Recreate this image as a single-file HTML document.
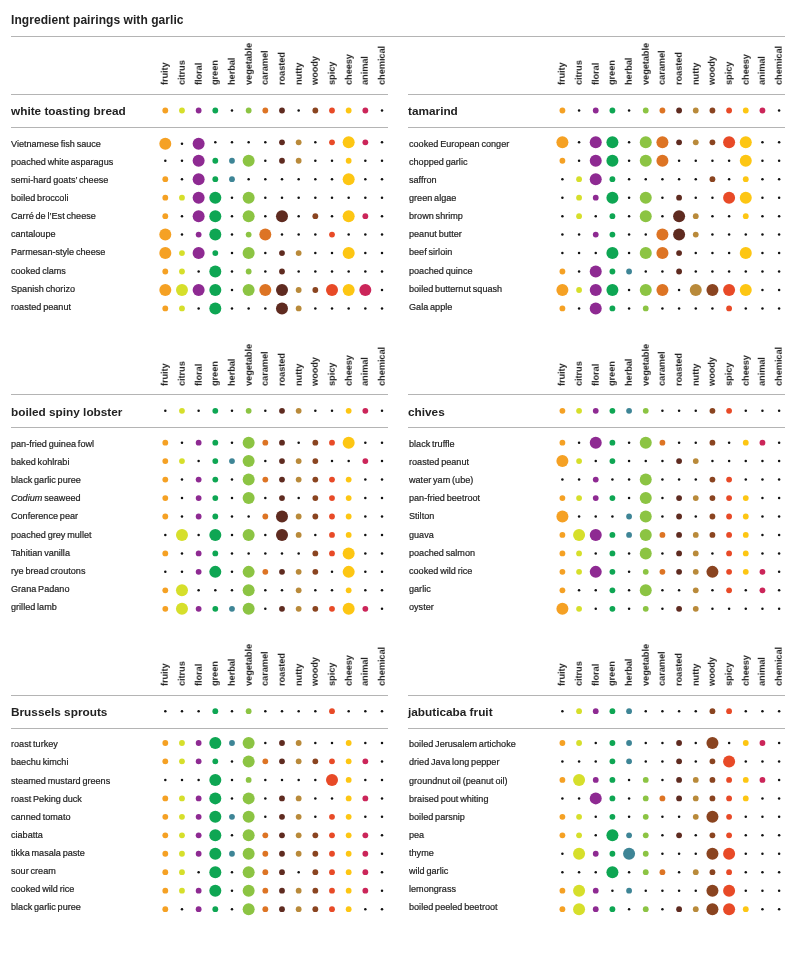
<!DOCTYPE html>
<html><head><meta charset="utf-8"><style>
html,body{margin:0;padding:0;background:#fff;}
body{width:800px;height:954px;position:relative;overflow:hidden;font-family:"Liberation Sans",sans-serif;color:#2b2b2b;}
.title{position:absolute;left:10.8px;top:12.6px;font-size:12px;font-weight:bold;line-height:14px;white-space:nowrap;color:#222;letter-spacing:0.06px;will-change:transform;}
.ln{position:absolute;height:1px;background:#b4b4b4;}
.cl{position:absolute;width:0;height:0;}
.cl span{position:absolute;left:0;top:0;font-size:9.3px;line-height:10px;white-space:nowrap;transform-origin:0 0;transform:rotate(-90deg) translate(0,-5.3px);color:#222;font-weight:bold;letter-spacing:-0.1px;will-change:transform;}
.mn{position:absolute;font-size:11.8px;font-weight:bold;line-height:14px;margin-top:-6.1px;white-space:nowrap;color:#222;will-change:transform;}
.rl{position:absolute;font-size:9.1px;line-height:10px;margin-top:-5px;white-space:nowrap;color:#222;-webkit-text-stroke:0.2px #222;word-spacing:-0.7px;will-change:transform;}
i.d{position:absolute;border-radius:50%;}
i.t{position:absolute;width:2.5px;height:2.5px;background:#111;}
</style></head>
<body>
<div class="title">Ingredient pairings with garlic</div>
<div class="ln" style="left:11px;top:36px;width:774px"></div>
<div class="cl" style="left:165.30px;top:85.40px"><span>fruity</span></div><div class="cl" style="left:181.97px;top:85.40px"><span>citrus</span></div><div class="cl" style="left:198.64px;top:85.40px"><span>floral</span></div><div class="cl" style="left:215.31px;top:85.40px"><span>green</span></div><div class="cl" style="left:231.98px;top:85.40px"><span>herbal</span></div><div class="cl" style="left:248.65px;top:85.40px"><span>vegetable</span></div><div class="cl" style="left:265.32px;top:85.40px"><span>caramel</span></div><div class="cl" style="left:281.99px;top:85.40px"><span>roasted</span></div><div class="cl" style="left:298.66px;top:85.40px"><span>nutty</span></div><div class="cl" style="left:315.33px;top:85.40px"><span>woody</span></div><div class="cl" style="left:332.00px;top:85.40px"><span>spicy</span></div><div class="cl" style="left:348.67px;top:85.40px"><span>cheesy</span></div><div class="cl" style="left:365.34px;top:85.40px"><span>animal</span></div><div class="cl" style="left:382.01px;top:85.40px"><span>chemical</span></div><div class="ln" style="left:11.00px;top:94px;width:376.6px"></div><div class="ln" style="left:11.00px;top:127px;width:376.6px"></div><div class="mn" style="left:11.30px;top:110.50px">white toasting bread</div><div class="rl" style="left:11.40px;top:143.60px">Vietnamese fish sauce</div><div class="rl" style="left:11.40px;top:161.73px">poached white asparagus</div><div class="rl" style="left:11.40px;top:179.86px">semi-hard goats’ cheese</div><div class="rl" style="left:11.40px;top:197.99px">boiled broccoli</div><div class="rl" style="left:11.40px;top:216.12px">Carré de l’Est cheese</div><div class="rl" style="left:11.40px;top:234.25px">cantaloupe</div><div class="rl" style="left:11.40px;top:252.38px">Parmesan-style cheese</div><div class="rl" style="left:11.40px;top:270.51px">cooked clams</div><div class="rl" style="left:11.40px;top:288.64px">Spanish chorizo</div><div class="rl" style="left:11.40px;top:306.77px">roasted peanut</div><div class="cl" style="left:562.40px;top:85.40px"><span>fruity</span></div><div class="cl" style="left:579.07px;top:85.40px"><span>citrus</span></div><div class="cl" style="left:595.74px;top:85.40px"><span>floral</span></div><div class="cl" style="left:612.41px;top:85.40px"><span>green</span></div><div class="cl" style="left:629.08px;top:85.40px"><span>herbal</span></div><div class="cl" style="left:645.75px;top:85.40px"><span>vegetable</span></div><div class="cl" style="left:662.42px;top:85.40px"><span>caramel</span></div><div class="cl" style="left:679.09px;top:85.40px"><span>roasted</span></div><div class="cl" style="left:695.76px;top:85.40px"><span>nutty</span></div><div class="cl" style="left:712.43px;top:85.40px"><span>woody</span></div><div class="cl" style="left:729.10px;top:85.40px"><span>spicy</span></div><div class="cl" style="left:745.77px;top:85.40px"><span>cheesy</span></div><div class="cl" style="left:762.44px;top:85.40px"><span>animal</span></div><div class="cl" style="left:779.11px;top:85.40px"><span>chemical</span></div><div class="ln" style="left:408.10px;top:94px;width:376.6px"></div><div class="ln" style="left:408.10px;top:127px;width:376.6px"></div><div class="mn" style="left:408.40px;top:110.50px">tamarind</div><div class="rl" style="left:408.50px;top:143.60px">cooked European conger</div><div class="rl" style="left:408.50px;top:161.73px">chopped garlic</div><div class="rl" style="left:408.50px;top:179.86px">saffron</div><div class="rl" style="left:408.50px;top:197.99px">green algae</div><div class="rl" style="left:408.50px;top:216.12px">brown shrimp</div><div class="rl" style="left:408.50px;top:234.25px">peanut butter</div><div class="rl" style="left:408.50px;top:252.38px">beef sirloin</div><div class="rl" style="left:408.50px;top:270.51px">poached quince</div><div class="rl" style="left:408.50px;top:288.64px">boiled butternut squash</div><div class="rl" style="left:408.50px;top:306.77px">Gala apple</div><div class="cl" style="left:165.30px;top:385.75px"><span>fruity</span></div><div class="cl" style="left:181.97px;top:385.75px"><span>citrus</span></div><div class="cl" style="left:198.64px;top:385.75px"><span>floral</span></div><div class="cl" style="left:215.31px;top:385.75px"><span>green</span></div><div class="cl" style="left:231.98px;top:385.75px"><span>herbal</span></div><div class="cl" style="left:248.65px;top:385.75px"><span>vegetable</span></div><div class="cl" style="left:265.32px;top:385.75px"><span>caramel</span></div><div class="cl" style="left:281.99px;top:385.75px"><span>roasted</span></div><div class="cl" style="left:298.66px;top:385.75px"><span>nutty</span></div><div class="cl" style="left:315.33px;top:385.75px"><span>woody</span></div><div class="cl" style="left:332.00px;top:385.75px"><span>spicy</span></div><div class="cl" style="left:348.67px;top:385.75px"><span>cheesy</span></div><div class="cl" style="left:365.34px;top:385.75px"><span>animal</span></div><div class="cl" style="left:382.01px;top:385.75px"><span>chemical</span></div><div class="ln" style="left:11.00px;top:394px;width:376.6px"></div><div class="ln" style="left:11.00px;top:427px;width:376.6px"></div><div class="mn" style="left:11.30px;top:410.85px">boiled spiny lobster</div><div class="rl" style="left:11.40px;top:443.95px">pan-fried guinea fowl</div><div class="rl" style="left:11.40px;top:462.08px">baked kohlrabi</div><div class="rl" style="left:11.40px;top:480.21px">black garlic puree</div><div class="rl" style="left:11.40px;top:498.34px"><i>Codium</i> seaweed</div><div class="rl" style="left:11.40px;top:516.47px">Conference pear</div><div class="rl" style="left:11.40px;top:534.60px">poached grey mullet</div><div class="rl" style="left:11.40px;top:552.73px">Tahitian vanilla</div><div class="rl" style="left:11.40px;top:570.86px">rye bread croutons</div><div class="rl" style="left:11.40px;top:588.99px">Grana Padano</div><div class="rl" style="left:11.40px;top:607.12px">grilled lamb</div><div class="cl" style="left:562.40px;top:385.75px"><span>fruity</span></div><div class="cl" style="left:579.07px;top:385.75px"><span>citrus</span></div><div class="cl" style="left:595.74px;top:385.75px"><span>floral</span></div><div class="cl" style="left:612.41px;top:385.75px"><span>green</span></div><div class="cl" style="left:629.08px;top:385.75px"><span>herbal</span></div><div class="cl" style="left:645.75px;top:385.75px"><span>vegetable</span></div><div class="cl" style="left:662.42px;top:385.75px"><span>caramel</span></div><div class="cl" style="left:679.09px;top:385.75px"><span>roasted</span></div><div class="cl" style="left:695.76px;top:385.75px"><span>nutty</span></div><div class="cl" style="left:712.43px;top:385.75px"><span>woody</span></div><div class="cl" style="left:729.10px;top:385.75px"><span>spicy</span></div><div class="cl" style="left:745.77px;top:385.75px"><span>cheesy</span></div><div class="cl" style="left:762.44px;top:385.75px"><span>animal</span></div><div class="cl" style="left:779.11px;top:385.75px"><span>chemical</span></div><div class="ln" style="left:408.10px;top:394px;width:376.6px"></div><div class="ln" style="left:408.10px;top:427px;width:376.6px"></div><div class="mn" style="left:408.40px;top:410.85px">chives</div><div class="rl" style="left:408.50px;top:443.95px">black truffle</div><div class="rl" style="left:408.50px;top:462.08px">roasted peanut</div><div class="rl" style="left:408.50px;top:480.21px">water yam (ube)</div><div class="rl" style="left:408.50px;top:498.34px">pan-fried beetroot</div><div class="rl" style="left:408.50px;top:516.47px">Stilton</div><div class="rl" style="left:408.50px;top:534.60px">guava</div><div class="rl" style="left:408.50px;top:552.73px">poached salmon</div><div class="rl" style="left:408.50px;top:570.86px">cooked wild rice</div><div class="rl" style="left:408.50px;top:588.99px">garlic</div><div class="rl" style="left:408.50px;top:607.12px">oyster</div><div class="cl" style="left:165.30px;top:686.10px"><span>fruity</span></div><div class="cl" style="left:181.97px;top:686.10px"><span>citrus</span></div><div class="cl" style="left:198.64px;top:686.10px"><span>floral</span></div><div class="cl" style="left:215.31px;top:686.10px"><span>green</span></div><div class="cl" style="left:231.98px;top:686.10px"><span>herbal</span></div><div class="cl" style="left:248.65px;top:686.10px"><span>vegetable</span></div><div class="cl" style="left:265.32px;top:686.10px"><span>caramel</span></div><div class="cl" style="left:281.99px;top:686.10px"><span>roasted</span></div><div class="cl" style="left:298.66px;top:686.10px"><span>nutty</span></div><div class="cl" style="left:315.33px;top:686.10px"><span>woody</span></div><div class="cl" style="left:332.00px;top:686.10px"><span>spicy</span></div><div class="cl" style="left:348.67px;top:686.10px"><span>cheesy</span></div><div class="cl" style="left:365.34px;top:686.10px"><span>animal</span></div><div class="cl" style="left:382.01px;top:686.10px"><span>chemical</span></div><div class="ln" style="left:11.00px;top:695px;width:376.6px"></div><div class="ln" style="left:11.00px;top:728px;width:376.6px"></div><div class="mn" style="left:11.30px;top:711.20px">Brussels sprouts</div><div class="rl" style="left:11.40px;top:744.30px">roast turkey</div><div class="rl" style="left:11.40px;top:762.43px">baechu kimchi</div><div class="rl" style="left:11.40px;top:780.56px">steamed mustard greens</div><div class="rl" style="left:11.40px;top:798.69px">roast Peking duck</div><div class="rl" style="left:11.40px;top:816.82px">canned tomato</div><div class="rl" style="left:11.40px;top:834.95px">ciabatta</div><div class="rl" style="left:11.40px;top:853.08px">tikka masala paste</div><div class="rl" style="left:11.40px;top:871.21px">sour cream</div><div class="rl" style="left:11.40px;top:889.34px">cooked wild rice</div><div class="rl" style="left:11.40px;top:907.47px">black garlic puree</div><div class="cl" style="left:562.40px;top:686.10px"><span>fruity</span></div><div class="cl" style="left:579.07px;top:686.10px"><span>citrus</span></div><div class="cl" style="left:595.74px;top:686.10px"><span>floral</span></div><div class="cl" style="left:612.41px;top:686.10px"><span>green</span></div><div class="cl" style="left:629.08px;top:686.10px"><span>herbal</span></div><div class="cl" style="left:645.75px;top:686.10px"><span>vegetable</span></div><div class="cl" style="left:662.42px;top:686.10px"><span>caramel</span></div><div class="cl" style="left:679.09px;top:686.10px"><span>roasted</span></div><div class="cl" style="left:695.76px;top:686.10px"><span>nutty</span></div><div class="cl" style="left:712.43px;top:686.10px"><span>woody</span></div><div class="cl" style="left:729.10px;top:686.10px"><span>spicy</span></div><div class="cl" style="left:745.77px;top:686.10px"><span>cheesy</span></div><div class="cl" style="left:762.44px;top:686.10px"><span>animal</span></div><div class="cl" style="left:779.11px;top:686.10px"><span>chemical</span></div><div class="ln" style="left:408.10px;top:695px;width:376.6px"></div><div class="ln" style="left:408.10px;top:728px;width:376.6px"></div><div class="mn" style="left:408.40px;top:711.20px">jabuticaba fruit</div><div class="rl" style="left:408.50px;top:744.30px">boiled Jerusalem artichoke</div><div class="rl" style="left:408.50px;top:762.43px">dried Java long pepper</div><div class="rl" style="left:408.50px;top:780.56px">groundnut oil (peanut oil)</div><div class="rl" style="left:408.50px;top:798.69px">braised pout whiting</div><div class="rl" style="left:408.50px;top:816.82px">boiled parsnip</div><div class="rl" style="left:408.50px;top:834.95px">pea</div><div class="rl" style="left:408.50px;top:853.08px">thyme</div><div class="rl" style="left:408.50px;top:871.21px">wild garlic</div><div class="rl" style="left:408.50px;top:889.34px">lemongrass</div><div class="rl" style="left:408.50px;top:907.47px">boiled peeled beetroot</div>
<svg width="800" height="954" style="position:absolute;left:0;top:0"><circle cx="165.30" cy="110.50" r="2.9" fill="#F5A124"/><circle cx="181.97" cy="110.50" r="2.9" fill="#D6DF2B"/><circle cx="198.64" cy="110.50" r="2.9" fill="#8E2A92"/><circle cx="215.31" cy="110.50" r="2.9" fill="#0EA653"/><circle cx="231.98" cy="110.50" r="1.25" fill="#111"/><circle cx="248.65" cy="110.50" r="2.9" fill="#8CC443"/><circle cx="265.32" cy="110.50" r="2.9" fill="#DD7424"/><circle cx="281.99" cy="110.50" r="2.9" fill="#5F2B20"/><circle cx="298.66" cy="110.50" r="1.25" fill="#111"/><circle cx="315.33" cy="110.50" r="2.9" fill="#8A4420"/><circle cx="332.00" cy="110.50" r="2.9" fill="#E84A27"/><circle cx="348.67" cy="110.50" r="2.9" fill="#FDC613"/><circle cx="365.34" cy="110.50" r="2.9" fill="#CB2559"/><circle cx="382.01" cy="110.50" r="1.25" fill="#111"/><circle cx="165.30" cy="143.70" r="6.0" fill="#F5A124"/><circle cx="181.97" cy="143.70" r="1.25" fill="#111"/><circle cx="198.64" cy="143.70" r="6.0" fill="#8E2A92"/><circle cx="215.31" cy="142.30" r="1.25" fill="#111"/><circle cx="231.98" cy="142.30" r="1.25" fill="#111"/><circle cx="248.65" cy="142.30" r="1.25" fill="#111"/><circle cx="265.32" cy="142.30" r="1.25" fill="#111"/><circle cx="281.99" cy="142.30" r="2.9" fill="#5F2B20"/><circle cx="298.66" cy="142.30" r="2.9" fill="#B98A3A"/><circle cx="315.33" cy="142.30" r="1.25" fill="#111"/><circle cx="332.00" cy="142.30" r="2.9" fill="#E84A27"/><circle cx="348.67" cy="142.30" r="6.0" fill="#FDC613"/><circle cx="365.34" cy="142.30" r="2.9" fill="#CB2559"/><circle cx="382.01" cy="142.30" r="1.25" fill="#111"/><circle cx="165.30" cy="160.76" r="1.25" fill="#111"/><circle cx="181.97" cy="160.76" r="1.25" fill="#111"/><circle cx="198.64" cy="160.76" r="6.0" fill="#8E2A92"/><circle cx="215.31" cy="160.76" r="2.9" fill="#0EA653"/><circle cx="231.98" cy="160.76" r="2.9" fill="#3E8596"/><circle cx="248.65" cy="160.76" r="6.0" fill="#8CC443"/><circle cx="265.32" cy="160.76" r="1.25" fill="#111"/><circle cx="281.99" cy="160.76" r="2.9" fill="#5F2B20"/><circle cx="298.66" cy="160.76" r="2.9" fill="#B98A3A"/><circle cx="315.33" cy="160.76" r="1.25" fill="#111"/><circle cx="332.00" cy="160.76" r="1.25" fill="#111"/><circle cx="348.67" cy="160.76" r="2.9" fill="#FDC613"/><circle cx="365.34" cy="160.76" r="1.25" fill="#111"/><circle cx="382.01" cy="160.76" r="1.25" fill="#111"/><circle cx="165.30" cy="179.22" r="2.9" fill="#F5A124"/><circle cx="181.97" cy="179.22" r="1.25" fill="#111"/><circle cx="198.64" cy="179.22" r="6.0" fill="#8E2A92"/><circle cx="215.31" cy="179.22" r="2.9" fill="#0EA653"/><circle cx="231.98" cy="179.22" r="2.9" fill="#3E8596"/><circle cx="248.65" cy="179.22" r="1.25" fill="#111"/><circle cx="265.32" cy="179.22" r="1.25" fill="#111"/><circle cx="281.99" cy="179.22" r="1.25" fill="#111"/><circle cx="298.66" cy="179.22" r="1.25" fill="#111"/><circle cx="315.33" cy="179.22" r="1.25" fill="#111"/><circle cx="332.00" cy="179.22" r="1.25" fill="#111"/><circle cx="348.67" cy="179.22" r="6.0" fill="#FDC613"/><circle cx="365.34" cy="179.22" r="1.25" fill="#111"/><circle cx="382.01" cy="179.22" r="1.25" fill="#111"/><circle cx="165.30" cy="197.68" r="2.9" fill="#F5A124"/><circle cx="181.97" cy="197.68" r="2.9" fill="#D6DF2B"/><circle cx="198.64" cy="197.68" r="6.0" fill="#8E2A92"/><circle cx="215.31" cy="197.68" r="6.0" fill="#0EA653"/><circle cx="231.98" cy="197.68" r="1.25" fill="#111"/><circle cx="248.65" cy="197.68" r="6.0" fill="#8CC443"/><circle cx="265.32" cy="197.68" r="1.25" fill="#111"/><circle cx="281.99" cy="197.68" r="1.25" fill="#111"/><circle cx="298.66" cy="197.68" r="1.25" fill="#111"/><circle cx="315.33" cy="197.68" r="1.25" fill="#111"/><circle cx="332.00" cy="197.68" r="1.25" fill="#111"/><circle cx="348.67" cy="197.68" r="1.25" fill="#111"/><circle cx="365.34" cy="197.68" r="1.25" fill="#111"/><circle cx="382.01" cy="197.68" r="1.25" fill="#111"/><circle cx="165.30" cy="216.14" r="2.9" fill="#F5A124"/><circle cx="181.97" cy="216.14" r="1.25" fill="#111"/><circle cx="198.64" cy="216.14" r="6.0" fill="#8E2A92"/><circle cx="215.31" cy="216.14" r="6.0" fill="#0EA653"/><circle cx="231.98" cy="216.14" r="1.25" fill="#111"/><circle cx="248.65" cy="216.14" r="6.0" fill="#8CC443"/><circle cx="265.32" cy="216.14" r="1.25" fill="#111"/><circle cx="281.99" cy="216.14" r="6.0" fill="#5F2B20"/><circle cx="298.66" cy="216.14" r="1.25" fill="#111"/><circle cx="315.33" cy="216.14" r="2.9" fill="#8A4420"/><circle cx="332.00" cy="216.14" r="1.25" fill="#111"/><circle cx="348.67" cy="216.14" r="6.0" fill="#FDC613"/><circle cx="365.34" cy="216.14" r="2.9" fill="#CB2559"/><circle cx="382.01" cy="216.14" r="1.25" fill="#111"/><circle cx="165.30" cy="234.60" r="6.0" fill="#F5A124"/><circle cx="181.97" cy="234.60" r="1.25" fill="#111"/><circle cx="198.64" cy="234.60" r="2.9" fill="#8E2A92"/><circle cx="215.31" cy="234.60" r="6.0" fill="#0EA653"/><circle cx="231.98" cy="234.60" r="1.25" fill="#111"/><circle cx="248.65" cy="234.60" r="2.9" fill="#8CC443"/><circle cx="265.32" cy="234.60" r="6.0" fill="#DD7424"/><circle cx="281.99" cy="234.60" r="1.25" fill="#111"/><circle cx="298.66" cy="234.60" r="1.25" fill="#111"/><circle cx="315.33" cy="234.60" r="1.25" fill="#111"/><circle cx="332.00" cy="234.60" r="2.9" fill="#E84A27"/><circle cx="348.67" cy="234.60" r="1.25" fill="#111"/><circle cx="365.34" cy="234.60" r="1.25" fill="#111"/><circle cx="382.01" cy="234.60" r="1.25" fill="#111"/><circle cx="165.30" cy="253.06" r="6.0" fill="#F5A124"/><circle cx="181.97" cy="253.06" r="2.9" fill="#D6DF2B"/><circle cx="198.64" cy="253.06" r="6.0" fill="#8E2A92"/><circle cx="215.31" cy="253.06" r="2.9" fill="#0EA653"/><circle cx="231.98" cy="253.06" r="1.25" fill="#111"/><circle cx="248.65" cy="253.06" r="6.0" fill="#8CC443"/><circle cx="265.32" cy="253.06" r="1.25" fill="#111"/><circle cx="281.99" cy="253.06" r="2.9" fill="#5F2B20"/><circle cx="298.66" cy="253.06" r="2.9" fill="#B98A3A"/><circle cx="315.33" cy="253.06" r="1.25" fill="#111"/><circle cx="332.00" cy="253.06" r="1.25" fill="#111"/><circle cx="348.67" cy="253.06" r="6.0" fill="#FDC613"/><circle cx="365.34" cy="253.06" r="1.25" fill="#111"/><circle cx="382.01" cy="253.06" r="1.25" fill="#111"/><circle cx="165.30" cy="271.52" r="2.9" fill="#F5A124"/><circle cx="181.97" cy="271.52" r="2.9" fill="#D6DF2B"/><circle cx="198.64" cy="271.52" r="1.25" fill="#111"/><circle cx="215.31" cy="271.52" r="6.0" fill="#0EA653"/><circle cx="231.98" cy="271.52" r="1.25" fill="#111"/><circle cx="248.65" cy="271.52" r="2.9" fill="#8CC443"/><circle cx="265.32" cy="271.52" r="1.25" fill="#111"/><circle cx="281.99" cy="271.52" r="2.9" fill="#5F2B20"/><circle cx="298.66" cy="271.52" r="1.25" fill="#111"/><circle cx="315.33" cy="271.52" r="1.25" fill="#111"/><circle cx="332.00" cy="271.52" r="1.25" fill="#111"/><circle cx="348.67" cy="271.52" r="1.25" fill="#111"/><circle cx="365.34" cy="271.52" r="1.25" fill="#111"/><circle cx="382.01" cy="271.52" r="1.25" fill="#111"/><circle cx="165.30" cy="289.98" r="6.0" fill="#F5A124"/><circle cx="181.97" cy="289.98" r="6.0" fill="#D6DF2B"/><circle cx="198.64" cy="289.98" r="6.0" fill="#8E2A92"/><circle cx="215.31" cy="289.98" r="6.0" fill="#0EA653"/><circle cx="231.98" cy="289.98" r="1.25" fill="#111"/><circle cx="248.65" cy="289.98" r="6.0" fill="#8CC443"/><circle cx="265.32" cy="289.98" r="6.0" fill="#DD7424"/><circle cx="281.99" cy="289.98" r="6.0" fill="#5F2B20"/><circle cx="298.66" cy="289.98" r="2.9" fill="#B98A3A"/><circle cx="315.33" cy="289.98" r="2.9" fill="#8A4420"/><circle cx="332.00" cy="289.98" r="6.0" fill="#E84A27"/><circle cx="348.67" cy="289.98" r="6.0" fill="#FDC613"/><circle cx="365.34" cy="289.98" r="6.0" fill="#CB2559"/><circle cx="382.01" cy="289.98" r="1.25" fill="#111"/><circle cx="165.30" cy="308.44" r="2.9" fill="#F5A124"/><circle cx="181.97" cy="308.44" r="2.9" fill="#D6DF2B"/><circle cx="198.64" cy="308.44" r="1.25" fill="#111"/><circle cx="215.31" cy="308.44" r="6.0" fill="#0EA653"/><circle cx="231.98" cy="308.44" r="1.25" fill="#111"/><circle cx="248.65" cy="308.44" r="1.25" fill="#111"/><circle cx="265.32" cy="308.44" r="1.25" fill="#111"/><circle cx="281.99" cy="308.44" r="6.0" fill="#5F2B20"/><circle cx="298.66" cy="308.44" r="2.9" fill="#B98A3A"/><circle cx="315.33" cy="308.44" r="1.25" fill="#111"/><circle cx="332.00" cy="308.44" r="1.25" fill="#111"/><circle cx="348.67" cy="308.44" r="1.25" fill="#111"/><circle cx="365.34" cy="308.44" r="1.25" fill="#111"/><circle cx="382.01" cy="308.44" r="1.25" fill="#111"/><circle cx="562.40" cy="110.50" r="2.9" fill="#F5A124"/><circle cx="579.07" cy="110.50" r="1.25" fill="#111"/><circle cx="595.74" cy="110.50" r="2.9" fill="#8E2A92"/><circle cx="612.41" cy="110.50" r="2.9" fill="#0EA653"/><circle cx="629.08" cy="110.50" r="1.25" fill="#111"/><circle cx="645.75" cy="110.50" r="2.9" fill="#8CC443"/><circle cx="662.42" cy="110.50" r="2.9" fill="#DD7424"/><circle cx="679.09" cy="110.50" r="2.9" fill="#5F2B20"/><circle cx="695.76" cy="110.50" r="2.9" fill="#B98A3A"/><circle cx="712.43" cy="110.50" r="2.9" fill="#8A4420"/><circle cx="729.10" cy="110.50" r="2.9" fill="#E84A27"/><circle cx="745.77" cy="110.50" r="2.9" fill="#FDC613"/><circle cx="762.44" cy="110.50" r="2.9" fill="#CB2559"/><circle cx="779.11" cy="110.50" r="1.25" fill="#111"/><circle cx="562.40" cy="142.30" r="6.0" fill="#F5A124"/><circle cx="579.07" cy="142.30" r="1.25" fill="#111"/><circle cx="595.74" cy="142.30" r="6.0" fill="#8E2A92"/><circle cx="612.41" cy="142.30" r="6.0" fill="#0EA653"/><circle cx="629.08" cy="142.30" r="1.25" fill="#111"/><circle cx="645.75" cy="142.30" r="6.0" fill="#8CC443"/><circle cx="662.42" cy="142.30" r="6.0" fill="#DD7424"/><circle cx="679.09" cy="142.30" r="2.9" fill="#5F2B20"/><circle cx="695.76" cy="142.30" r="2.9" fill="#B98A3A"/><circle cx="712.43" cy="142.30" r="2.9" fill="#8A4420"/><circle cx="729.10" cy="142.30" r="6.0" fill="#E84A27"/><circle cx="745.77" cy="142.30" r="6.0" fill="#FDC613"/><circle cx="762.44" cy="142.30" r="1.25" fill="#111"/><circle cx="779.11" cy="142.30" r="1.25" fill="#111"/><circle cx="562.40" cy="160.76" r="2.9" fill="#F5A124"/><circle cx="579.07" cy="160.76" r="1.25" fill="#111"/><circle cx="595.74" cy="160.76" r="6.0" fill="#8E2A92"/><circle cx="612.41" cy="160.76" r="6.0" fill="#0EA653"/><circle cx="629.08" cy="160.76" r="1.25" fill="#111"/><circle cx="645.75" cy="160.76" r="6.0" fill="#8CC443"/><circle cx="662.42" cy="160.76" r="6.0" fill="#DD7424"/><circle cx="679.09" cy="160.76" r="1.25" fill="#111"/><circle cx="695.76" cy="160.76" r="1.25" fill="#111"/><circle cx="712.43" cy="160.76" r="1.25" fill="#111"/><circle cx="729.10" cy="160.76" r="1.25" fill="#111"/><circle cx="745.77" cy="160.76" r="6.0" fill="#FDC613"/><circle cx="762.44" cy="160.76" r="1.25" fill="#111"/><circle cx="779.11" cy="160.76" r="1.25" fill="#111"/><circle cx="562.40" cy="179.22" r="1.25" fill="#111"/><circle cx="579.07" cy="179.22" r="2.9" fill="#D6DF2B"/><circle cx="595.74" cy="179.22" r="6.0" fill="#8E2A92"/><circle cx="612.41" cy="179.22" r="2.9" fill="#0EA653"/><circle cx="629.08" cy="179.22" r="1.25" fill="#111"/><circle cx="645.75" cy="179.22" r="1.25" fill="#111"/><circle cx="662.42" cy="179.22" r="1.25" fill="#111"/><circle cx="679.09" cy="179.22" r="1.25" fill="#111"/><circle cx="695.76" cy="179.22" r="1.25" fill="#111"/><circle cx="712.43" cy="179.22" r="2.9" fill="#8A4420"/><circle cx="729.10" cy="179.22" r="1.25" fill="#111"/><circle cx="745.77" cy="179.22" r="2.9" fill="#FDC613"/><circle cx="762.44" cy="179.22" r="1.25" fill="#111"/><circle cx="779.11" cy="179.22" r="1.25" fill="#111"/><circle cx="562.40" cy="197.68" r="1.25" fill="#111"/><circle cx="579.07" cy="197.68" r="2.9" fill="#D6DF2B"/><circle cx="595.74" cy="197.68" r="2.9" fill="#8E2A92"/><circle cx="612.41" cy="197.68" r="6.0" fill="#0EA653"/><circle cx="629.08" cy="197.68" r="1.25" fill="#111"/><circle cx="645.75" cy="197.68" r="6.0" fill="#8CC443"/><circle cx="662.42" cy="197.68" r="1.25" fill="#111"/><circle cx="679.09" cy="197.68" r="2.9" fill="#5F2B20"/><circle cx="695.76" cy="197.68" r="1.25" fill="#111"/><circle cx="712.43" cy="197.68" r="1.25" fill="#111"/><circle cx="729.10" cy="197.68" r="6.0" fill="#E84A27"/><circle cx="745.77" cy="197.68" r="6.0" fill="#FDC613"/><circle cx="762.44" cy="197.68" r="1.25" fill="#111"/><circle cx="779.11" cy="197.68" r="1.25" fill="#111"/><circle cx="562.40" cy="216.14" r="1.25" fill="#111"/><circle cx="579.07" cy="216.14" r="2.9" fill="#D6DF2B"/><circle cx="595.74" cy="216.14" r="1.25" fill="#111"/><circle cx="612.41" cy="216.14" r="2.9" fill="#0EA653"/><circle cx="629.08" cy="216.14" r="1.25" fill="#111"/><circle cx="645.75" cy="216.14" r="6.0" fill="#8CC443"/><circle cx="662.42" cy="216.14" r="1.25" fill="#111"/><circle cx="679.09" cy="216.14" r="6.0" fill="#5F2B20"/><circle cx="695.76" cy="216.14" r="2.9" fill="#B98A3A"/><circle cx="712.43" cy="216.14" r="1.25" fill="#111"/><circle cx="729.10" cy="216.14" r="1.25" fill="#111"/><circle cx="745.77" cy="216.14" r="2.9" fill="#FDC613"/><circle cx="762.44" cy="216.14" r="1.25" fill="#111"/><circle cx="779.11" cy="216.14" r="1.25" fill="#111"/><circle cx="562.40" cy="234.60" r="1.25" fill="#111"/><circle cx="579.07" cy="234.60" r="1.25" fill="#111"/><circle cx="595.74" cy="234.60" r="2.9" fill="#8E2A92"/><circle cx="612.41" cy="234.60" r="2.9" fill="#0EA653"/><circle cx="629.08" cy="234.60" r="1.25" fill="#111"/><circle cx="645.75" cy="234.60" r="1.25" fill="#111"/><circle cx="662.42" cy="234.60" r="6.0" fill="#DD7424"/><circle cx="679.09" cy="234.60" r="6.0" fill="#5F2B20"/><circle cx="695.76" cy="234.60" r="2.9" fill="#B98A3A"/><circle cx="712.43" cy="234.60" r="1.25" fill="#111"/><circle cx="729.10" cy="234.60" r="1.25" fill="#111"/><circle cx="745.77" cy="234.60" r="1.25" fill="#111"/><circle cx="762.44" cy="234.60" r="1.25" fill="#111"/><circle cx="779.11" cy="234.60" r="1.25" fill="#111"/><circle cx="562.40" cy="253.06" r="1.25" fill="#111"/><circle cx="579.07" cy="253.06" r="1.25" fill="#111"/><circle cx="595.74" cy="253.06" r="1.25" fill="#111"/><circle cx="612.41" cy="253.06" r="6.0" fill="#0EA653"/><circle cx="629.08" cy="253.06" r="1.25" fill="#111"/><circle cx="645.75" cy="253.06" r="6.0" fill="#8CC443"/><circle cx="662.42" cy="253.06" r="6.0" fill="#DD7424"/><circle cx="679.09" cy="253.06" r="2.9" fill="#5F2B20"/><circle cx="695.76" cy="253.06" r="1.25" fill="#111"/><circle cx="712.43" cy="253.06" r="1.25" fill="#111"/><circle cx="729.10" cy="253.06" r="1.25" fill="#111"/><circle cx="745.77" cy="253.06" r="6.0" fill="#FDC613"/><circle cx="762.44" cy="253.06" r="1.25" fill="#111"/><circle cx="779.11" cy="253.06" r="1.25" fill="#111"/><circle cx="562.40" cy="271.52" r="2.9" fill="#F5A124"/><circle cx="579.07" cy="271.52" r="1.25" fill="#111"/><circle cx="595.74" cy="271.52" r="6.0" fill="#8E2A92"/><circle cx="612.41" cy="271.52" r="2.9" fill="#0EA653"/><circle cx="629.08" cy="271.52" r="2.9" fill="#3E8596"/><circle cx="645.75" cy="271.52" r="1.25" fill="#111"/><circle cx="662.42" cy="271.52" r="1.25" fill="#111"/><circle cx="679.09" cy="271.52" r="2.9" fill="#5F2B20"/><circle cx="695.76" cy="271.52" r="1.25" fill="#111"/><circle cx="712.43" cy="271.52" r="1.25" fill="#111"/><circle cx="729.10" cy="271.52" r="1.25" fill="#111"/><circle cx="745.77" cy="271.52" r="1.25" fill="#111"/><circle cx="762.44" cy="271.52" r="1.25" fill="#111"/><circle cx="779.11" cy="271.52" r="1.25" fill="#111"/><circle cx="562.40" cy="289.98" r="6.0" fill="#F5A124"/><circle cx="579.07" cy="289.98" r="2.9" fill="#D6DF2B"/><circle cx="595.74" cy="289.98" r="6.0" fill="#8E2A92"/><circle cx="612.41" cy="289.98" r="6.0" fill="#0EA653"/><circle cx="629.08" cy="289.98" r="1.25" fill="#111"/><circle cx="645.75" cy="289.98" r="6.0" fill="#8CC443"/><circle cx="662.42" cy="289.98" r="6.0" fill="#DD7424"/><circle cx="679.09" cy="289.98" r="1.25" fill="#111"/><circle cx="695.76" cy="289.98" r="6.0" fill="#B98A3A"/><circle cx="712.43" cy="289.98" r="6.0" fill="#8A4420"/><circle cx="729.10" cy="289.98" r="6.0" fill="#E84A27"/><circle cx="745.77" cy="289.98" r="6.0" fill="#FDC613"/><circle cx="762.44" cy="289.98" r="1.25" fill="#111"/><circle cx="779.11" cy="289.98" r="1.25" fill="#111"/><circle cx="562.40" cy="308.44" r="2.9" fill="#F5A124"/><circle cx="579.07" cy="308.44" r="1.25" fill="#111"/><circle cx="595.74" cy="308.44" r="6.0" fill="#8E2A92"/><circle cx="612.41" cy="308.44" r="2.9" fill="#0EA653"/><circle cx="629.08" cy="308.44" r="1.25" fill="#111"/><circle cx="645.75" cy="308.44" r="2.9" fill="#8CC443"/><circle cx="662.42" cy="308.44" r="1.25" fill="#111"/><circle cx="679.09" cy="308.44" r="1.25" fill="#111"/><circle cx="695.76" cy="308.44" r="1.25" fill="#111"/><circle cx="712.43" cy="308.44" r="1.25" fill="#111"/><circle cx="729.10" cy="308.44" r="2.9" fill="#E84A27"/><circle cx="745.77" cy="308.44" r="1.25" fill="#111"/><circle cx="762.44" cy="308.44" r="1.25" fill="#111"/><circle cx="779.11" cy="308.44" r="1.25" fill="#111"/><circle cx="165.30" cy="410.85" r="1.25" fill="#111"/><circle cx="181.97" cy="410.85" r="2.9" fill="#D6DF2B"/><circle cx="198.64" cy="410.85" r="1.25" fill="#111"/><circle cx="215.31" cy="410.85" r="2.9" fill="#0EA653"/><circle cx="231.98" cy="410.85" r="1.25" fill="#111"/><circle cx="248.65" cy="410.85" r="2.9" fill="#8CC443"/><circle cx="265.32" cy="410.85" r="1.25" fill="#111"/><circle cx="281.99" cy="410.85" r="2.9" fill="#5F2B20"/><circle cx="298.66" cy="410.85" r="2.9" fill="#B98A3A"/><circle cx="315.33" cy="410.85" r="1.25" fill="#111"/><circle cx="332.00" cy="410.85" r="1.25" fill="#111"/><circle cx="348.67" cy="410.85" r="2.9" fill="#FDC613"/><circle cx="365.34" cy="410.85" r="2.9" fill="#CB2559"/><circle cx="382.01" cy="410.85" r="1.25" fill="#111"/><circle cx="165.30" cy="442.65" r="2.9" fill="#F5A124"/><circle cx="181.97" cy="442.65" r="1.25" fill="#111"/><circle cx="198.64" cy="442.65" r="2.9" fill="#8E2A92"/><circle cx="215.31" cy="442.65" r="2.9" fill="#0EA653"/><circle cx="231.98" cy="442.65" r="1.25" fill="#111"/><circle cx="248.65" cy="442.65" r="6.0" fill="#8CC443"/><circle cx="265.32" cy="442.65" r="2.9" fill="#DD7424"/><circle cx="281.99" cy="442.65" r="2.9" fill="#5F2B20"/><circle cx="298.66" cy="442.65" r="1.25" fill="#111"/><circle cx="315.33" cy="442.65" r="2.9" fill="#8A4420"/><circle cx="332.00" cy="442.65" r="2.9" fill="#E84A27"/><circle cx="348.67" cy="442.65" r="6.0" fill="#FDC613"/><circle cx="365.34" cy="442.65" r="1.25" fill="#111"/><circle cx="382.01" cy="442.65" r="1.25" fill="#111"/><circle cx="165.30" cy="461.11" r="2.9" fill="#F5A124"/><circle cx="181.97" cy="461.11" r="2.9" fill="#D6DF2B"/><circle cx="198.64" cy="461.11" r="1.25" fill="#111"/><circle cx="215.31" cy="461.11" r="2.9" fill="#0EA653"/><circle cx="231.98" cy="461.11" r="2.9" fill="#3E8596"/><circle cx="248.65" cy="461.11" r="6.0" fill="#8CC443"/><circle cx="265.32" cy="461.11" r="1.25" fill="#111"/><circle cx="281.99" cy="461.11" r="2.9" fill="#5F2B20"/><circle cx="298.66" cy="461.11" r="2.9" fill="#B98A3A"/><circle cx="315.33" cy="461.11" r="2.9" fill="#8A4420"/><circle cx="332.00" cy="461.11" r="1.25" fill="#111"/><circle cx="348.67" cy="461.11" r="1.25" fill="#111"/><circle cx="365.34" cy="461.11" r="2.9" fill="#CB2559"/><circle cx="382.01" cy="461.11" r="1.25" fill="#111"/><circle cx="165.30" cy="479.57" r="2.9" fill="#F5A124"/><circle cx="181.97" cy="479.57" r="1.25" fill="#111"/><circle cx="198.64" cy="479.57" r="2.9" fill="#8E2A92"/><circle cx="215.31" cy="479.57" r="2.9" fill="#0EA653"/><circle cx="231.98" cy="479.57" r="1.25" fill="#111"/><circle cx="248.65" cy="479.57" r="6.0" fill="#8CC443"/><circle cx="265.32" cy="479.57" r="2.9" fill="#DD7424"/><circle cx="281.99" cy="479.57" r="2.9" fill="#5F2B20"/><circle cx="298.66" cy="479.57" r="2.9" fill="#B98A3A"/><circle cx="315.33" cy="479.57" r="2.9" fill="#8A4420"/><circle cx="332.00" cy="479.57" r="2.9" fill="#E84A27"/><circle cx="348.67" cy="479.57" r="2.9" fill="#FDC613"/><circle cx="365.34" cy="479.57" r="1.25" fill="#111"/><circle cx="382.01" cy="479.57" r="1.25" fill="#111"/><circle cx="165.30" cy="498.03" r="2.9" fill="#F5A124"/><circle cx="181.97" cy="498.03" r="1.25" fill="#111"/><circle cx="198.64" cy="498.03" r="2.9" fill="#8E2A92"/><circle cx="215.31" cy="498.03" r="2.9" fill="#0EA653"/><circle cx="231.98" cy="498.03" r="1.25" fill="#111"/><circle cx="248.65" cy="498.03" r="6.0" fill="#8CC443"/><circle cx="265.32" cy="498.03" r="1.25" fill="#111"/><circle cx="281.99" cy="498.03" r="2.9" fill="#5F2B20"/><circle cx="298.66" cy="498.03" r="1.25" fill="#111"/><circle cx="315.33" cy="498.03" r="2.9" fill="#8A4420"/><circle cx="332.00" cy="498.03" r="2.9" fill="#E84A27"/><circle cx="348.67" cy="498.03" r="2.9" fill="#FDC613"/><circle cx="365.34" cy="498.03" r="1.25" fill="#111"/><circle cx="382.01" cy="498.03" r="1.25" fill="#111"/><circle cx="165.30" cy="516.49" r="2.9" fill="#F5A124"/><circle cx="181.97" cy="516.49" r="1.25" fill="#111"/><circle cx="198.64" cy="516.49" r="2.9" fill="#8E2A92"/><circle cx="215.31" cy="516.49" r="2.9" fill="#0EA653"/><circle cx="231.98" cy="516.49" r="1.25" fill="#111"/><circle cx="248.65" cy="516.49" r="1.25" fill="#111"/><circle cx="265.32" cy="516.49" r="2.9" fill="#DD7424"/><circle cx="281.99" cy="516.49" r="6.0" fill="#5F2B20"/><circle cx="298.66" cy="516.49" r="2.9" fill="#B98A3A"/><circle cx="315.33" cy="516.49" r="2.9" fill="#8A4420"/><circle cx="332.00" cy="516.49" r="2.9" fill="#E84A27"/><circle cx="348.67" cy="516.49" r="2.9" fill="#FDC613"/><circle cx="365.34" cy="516.49" r="1.25" fill="#111"/><circle cx="382.01" cy="516.49" r="1.25" fill="#111"/><circle cx="165.30" cy="534.95" r="1.25" fill="#111"/><circle cx="181.97" cy="534.95" r="6.0" fill="#D6DF2B"/><circle cx="198.64" cy="534.95" r="1.25" fill="#111"/><circle cx="215.31" cy="534.95" r="6.0" fill="#0EA653"/><circle cx="231.98" cy="534.95" r="1.25" fill="#111"/><circle cx="248.65" cy="534.95" r="6.0" fill="#8CC443"/><circle cx="265.32" cy="534.95" r="1.25" fill="#111"/><circle cx="281.99" cy="534.95" r="6.0" fill="#5F2B20"/><circle cx="298.66" cy="534.95" r="2.9" fill="#B98A3A"/><circle cx="315.33" cy="534.95" r="1.25" fill="#111"/><circle cx="332.00" cy="534.95" r="2.9" fill="#E84A27"/><circle cx="348.67" cy="534.95" r="2.9" fill="#FDC613"/><circle cx="365.34" cy="534.95" r="1.25" fill="#111"/><circle cx="382.01" cy="534.95" r="1.25" fill="#111"/><circle cx="165.30" cy="553.41" r="2.9" fill="#F5A124"/><circle cx="181.97" cy="553.41" r="1.25" fill="#111"/><circle cx="198.64" cy="553.41" r="2.9" fill="#8E2A92"/><circle cx="215.31" cy="553.41" r="2.9" fill="#0EA653"/><circle cx="231.98" cy="553.41" r="1.25" fill="#111"/><circle cx="248.65" cy="553.41" r="1.25" fill="#111"/><circle cx="265.32" cy="553.41" r="1.25" fill="#111"/><circle cx="281.99" cy="553.41" r="1.25" fill="#111"/><circle cx="298.66" cy="553.41" r="1.25" fill="#111"/><circle cx="315.33" cy="553.41" r="2.9" fill="#8A4420"/><circle cx="332.00" cy="553.41" r="2.9" fill="#E84A27"/><circle cx="348.67" cy="553.41" r="6.0" fill="#FDC613"/><circle cx="365.34" cy="553.41" r="1.25" fill="#111"/><circle cx="382.01" cy="553.41" r="1.25" fill="#111"/><circle cx="165.30" cy="571.87" r="1.25" fill="#111"/><circle cx="181.97" cy="571.87" r="1.25" fill="#111"/><circle cx="198.64" cy="571.87" r="2.9" fill="#8E2A92"/><circle cx="215.31" cy="571.87" r="6.0" fill="#0EA653"/><circle cx="231.98" cy="571.87" r="1.25" fill="#111"/><circle cx="248.65" cy="571.87" r="6.0" fill="#8CC443"/><circle cx="265.32" cy="571.87" r="2.9" fill="#DD7424"/><circle cx="281.99" cy="571.87" r="2.9" fill="#5F2B20"/><circle cx="298.66" cy="571.87" r="2.9" fill="#B98A3A"/><circle cx="315.33" cy="571.87" r="2.9" fill="#8A4420"/><circle cx="332.00" cy="571.87" r="1.25" fill="#111"/><circle cx="348.67" cy="571.87" r="6.0" fill="#FDC613"/><circle cx="365.34" cy="571.87" r="1.25" fill="#111"/><circle cx="382.01" cy="571.87" r="1.25" fill="#111"/><circle cx="165.30" cy="590.33" r="2.9" fill="#F5A124"/><circle cx="181.97" cy="590.33" r="6.0" fill="#D6DF2B"/><circle cx="198.64" cy="590.33" r="1.25" fill="#111"/><circle cx="215.31" cy="590.33" r="1.25" fill="#111"/><circle cx="231.98" cy="590.33" r="1.25" fill="#111"/><circle cx="248.65" cy="590.33" r="6.0" fill="#8CC443"/><circle cx="265.32" cy="590.33" r="1.25" fill="#111"/><circle cx="281.99" cy="590.33" r="1.25" fill="#111"/><circle cx="298.66" cy="590.33" r="2.9" fill="#B98A3A"/><circle cx="315.33" cy="590.33" r="1.25" fill="#111"/><circle cx="332.00" cy="590.33" r="1.25" fill="#111"/><circle cx="348.67" cy="590.33" r="2.9" fill="#FDC613"/><circle cx="365.34" cy="590.33" r="1.25" fill="#111"/><circle cx="382.01" cy="590.33" r="1.25" fill="#111"/><circle cx="165.30" cy="608.79" r="2.9" fill="#F5A124"/><circle cx="181.97" cy="608.79" r="6.0" fill="#D6DF2B"/><circle cx="198.64" cy="608.79" r="2.9" fill="#8E2A92"/><circle cx="215.31" cy="608.79" r="2.9" fill="#0EA653"/><circle cx="231.98" cy="608.79" r="2.9" fill="#3E8596"/><circle cx="248.65" cy="608.79" r="6.0" fill="#8CC443"/><circle cx="265.32" cy="608.79" r="1.25" fill="#111"/><circle cx="281.99" cy="608.79" r="2.9" fill="#5F2B20"/><circle cx="298.66" cy="608.79" r="2.9" fill="#B98A3A"/><circle cx="315.33" cy="608.79" r="2.9" fill="#8A4420"/><circle cx="332.00" cy="608.79" r="2.9" fill="#E84A27"/><circle cx="348.67" cy="608.79" r="6.0" fill="#FDC613"/><circle cx="365.34" cy="608.79" r="2.9" fill="#CB2559"/><circle cx="382.01" cy="608.79" r="1.25" fill="#111"/><circle cx="562.40" cy="410.85" r="2.9" fill="#F5A124"/><circle cx="579.07" cy="410.85" r="2.9" fill="#D6DF2B"/><circle cx="595.74" cy="410.85" r="2.9" fill="#8E2A92"/><circle cx="612.41" cy="410.85" r="2.9" fill="#0EA653"/><circle cx="629.08" cy="410.85" r="2.9" fill="#3E8596"/><circle cx="645.75" cy="410.85" r="2.9" fill="#8CC443"/><circle cx="662.42" cy="410.85" r="1.25" fill="#111"/><circle cx="679.09" cy="410.85" r="1.25" fill="#111"/><circle cx="695.76" cy="410.85" r="1.25" fill="#111"/><circle cx="712.43" cy="410.85" r="2.9" fill="#8A4420"/><circle cx="729.10" cy="410.85" r="2.9" fill="#E84A27"/><circle cx="745.77" cy="410.85" r="1.25" fill="#111"/><circle cx="762.44" cy="410.85" r="1.25" fill="#111"/><circle cx="779.11" cy="410.85" r="1.25" fill="#111"/><circle cx="562.40" cy="442.65" r="2.9" fill="#F5A124"/><circle cx="579.07" cy="442.65" r="1.25" fill="#111"/><circle cx="595.74" cy="442.65" r="6.0" fill="#8E2A92"/><circle cx="612.41" cy="442.65" r="2.9" fill="#0EA653"/><circle cx="629.08" cy="442.65" r="1.25" fill="#111"/><circle cx="645.75" cy="442.65" r="6.0" fill="#8CC443"/><circle cx="662.42" cy="442.65" r="2.9" fill="#DD7424"/><circle cx="679.09" cy="442.65" r="1.25" fill="#111"/><circle cx="695.76" cy="442.65" r="1.25" fill="#111"/><circle cx="712.43" cy="442.65" r="2.9" fill="#8A4420"/><circle cx="729.10" cy="442.65" r="1.25" fill="#111"/><circle cx="745.77" cy="442.65" r="2.9" fill="#FDC613"/><circle cx="762.44" cy="442.65" r="2.9" fill="#CB2559"/><circle cx="779.11" cy="442.65" r="1.25" fill="#111"/><circle cx="562.40" cy="461.11" r="6.0" fill="#F5A124"/><circle cx="579.07" cy="461.11" r="2.9" fill="#D6DF2B"/><circle cx="595.74" cy="461.11" r="1.25" fill="#111"/><circle cx="612.41" cy="461.11" r="2.9" fill="#0EA653"/><circle cx="629.08" cy="461.11" r="1.25" fill="#111"/><circle cx="645.75" cy="461.11" r="1.25" fill="#111"/><circle cx="662.42" cy="461.11" r="1.25" fill="#111"/><circle cx="679.09" cy="461.11" r="2.9" fill="#5F2B20"/><circle cx="695.76" cy="461.11" r="2.9" fill="#B98A3A"/><circle cx="712.43" cy="461.11" r="1.25" fill="#111"/><circle cx="729.10" cy="461.11" r="1.25" fill="#111"/><circle cx="745.77" cy="461.11" r="1.25" fill="#111"/><circle cx="762.44" cy="461.11" r="1.25" fill="#111"/><circle cx="779.11" cy="461.11" r="1.25" fill="#111"/><circle cx="562.40" cy="479.57" r="1.25" fill="#111"/><circle cx="579.07" cy="479.57" r="1.25" fill="#111"/><circle cx="595.74" cy="479.57" r="2.9" fill="#8E2A92"/><circle cx="612.41" cy="479.57" r="1.25" fill="#111"/><circle cx="629.08" cy="479.57" r="1.25" fill="#111"/><circle cx="645.75" cy="479.57" r="6.0" fill="#8CC443"/><circle cx="662.42" cy="479.57" r="1.25" fill="#111"/><circle cx="679.09" cy="479.57" r="1.25" fill="#111"/><circle cx="695.76" cy="479.57" r="1.25" fill="#111"/><circle cx="712.43" cy="479.57" r="2.9" fill="#8A4420"/><circle cx="729.10" cy="479.57" r="2.9" fill="#E84A27"/><circle cx="745.77" cy="479.57" r="1.25" fill="#111"/><circle cx="762.44" cy="479.57" r="1.25" fill="#111"/><circle cx="779.11" cy="479.57" r="1.25" fill="#111"/><circle cx="562.40" cy="498.03" r="2.9" fill="#F5A124"/><circle cx="579.07" cy="498.03" r="2.9" fill="#D6DF2B"/><circle cx="595.74" cy="498.03" r="2.9" fill="#8E2A92"/><circle cx="612.41" cy="498.03" r="2.9" fill="#0EA653"/><circle cx="629.08" cy="498.03" r="1.25" fill="#111"/><circle cx="645.75" cy="498.03" r="6.0" fill="#8CC443"/><circle cx="662.42" cy="498.03" r="1.25" fill="#111"/><circle cx="679.09" cy="498.03" r="2.9" fill="#5F2B20"/><circle cx="695.76" cy="498.03" r="2.9" fill="#B98A3A"/><circle cx="712.43" cy="498.03" r="2.9" fill="#8A4420"/><circle cx="729.10" cy="498.03" r="2.9" fill="#E84A27"/><circle cx="745.77" cy="498.03" r="2.9" fill="#FDC613"/><circle cx="762.44" cy="498.03" r="1.25" fill="#111"/><circle cx="779.11" cy="498.03" r="1.25" fill="#111"/><circle cx="562.40" cy="516.49" r="6.0" fill="#F5A124"/><circle cx="579.07" cy="516.49" r="1.25" fill="#111"/><circle cx="595.74" cy="516.49" r="1.25" fill="#111"/><circle cx="612.41" cy="516.49" r="1.25" fill="#111"/><circle cx="629.08" cy="516.49" r="2.9" fill="#3E8596"/><circle cx="645.75" cy="516.49" r="6.0" fill="#8CC443"/><circle cx="662.42" cy="516.49" r="1.25" fill="#111"/><circle cx="679.09" cy="516.49" r="2.9" fill="#5F2B20"/><circle cx="695.76" cy="516.49" r="1.25" fill="#111"/><circle cx="712.43" cy="516.49" r="2.9" fill="#8A4420"/><circle cx="729.10" cy="516.49" r="2.9" fill="#E84A27"/><circle cx="745.77" cy="516.49" r="2.9" fill="#FDC613"/><circle cx="762.44" cy="516.49" r="1.25" fill="#111"/><circle cx="779.11" cy="516.49" r="1.25" fill="#111"/><circle cx="562.40" cy="534.95" r="2.9" fill="#F5A124"/><circle cx="579.07" cy="534.95" r="6.0" fill="#D6DF2B"/><circle cx="595.74" cy="534.95" r="6.0" fill="#8E2A92"/><circle cx="612.41" cy="534.95" r="2.9" fill="#0EA653"/><circle cx="629.08" cy="534.95" r="2.9" fill="#3E8596"/><circle cx="645.75" cy="534.95" r="6.0" fill="#8CC443"/><circle cx="662.42" cy="534.95" r="2.9" fill="#DD7424"/><circle cx="679.09" cy="534.95" r="2.9" fill="#5F2B20"/><circle cx="695.76" cy="534.95" r="2.9" fill="#B98A3A"/><circle cx="712.43" cy="534.95" r="2.9" fill="#8A4420"/><circle cx="729.10" cy="534.95" r="2.9" fill="#E84A27"/><circle cx="745.77" cy="534.95" r="2.9" fill="#FDC613"/><circle cx="762.44" cy="534.95" r="1.25" fill="#111"/><circle cx="779.11" cy="534.95" r="1.25" fill="#111"/><circle cx="562.40" cy="553.41" r="2.9" fill="#F5A124"/><circle cx="579.07" cy="553.41" r="2.9" fill="#D6DF2B"/><circle cx="595.74" cy="553.41" r="1.25" fill="#111"/><circle cx="612.41" cy="553.41" r="2.9" fill="#0EA653"/><circle cx="629.08" cy="553.41" r="1.25" fill="#111"/><circle cx="645.75" cy="553.41" r="6.0" fill="#8CC443"/><circle cx="662.42" cy="553.41" r="1.25" fill="#111"/><circle cx="679.09" cy="553.41" r="2.9" fill="#5F2B20"/><circle cx="695.76" cy="553.41" r="2.9" fill="#B98A3A"/><circle cx="712.43" cy="553.41" r="1.25" fill="#111"/><circle cx="729.10" cy="553.41" r="2.9" fill="#E84A27"/><circle cx="745.77" cy="553.41" r="2.9" fill="#FDC613"/><circle cx="762.44" cy="553.41" r="1.25" fill="#111"/><circle cx="779.11" cy="553.41" r="1.25" fill="#111"/><circle cx="562.40" cy="571.87" r="2.9" fill="#F5A124"/><circle cx="579.07" cy="571.87" r="2.9" fill="#D6DF2B"/><circle cx="595.74" cy="571.87" r="6.0" fill="#8E2A92"/><circle cx="612.41" cy="571.87" r="2.9" fill="#0EA653"/><circle cx="629.08" cy="571.87" r="1.25" fill="#111"/><circle cx="645.75" cy="571.87" r="2.9" fill="#8CC443"/><circle cx="662.42" cy="571.87" r="2.9" fill="#DD7424"/><circle cx="679.09" cy="571.87" r="2.9" fill="#5F2B20"/><circle cx="695.76" cy="571.87" r="2.9" fill="#B98A3A"/><circle cx="712.43" cy="571.87" r="6.0" fill="#8A4420"/><circle cx="729.10" cy="571.87" r="2.9" fill="#E84A27"/><circle cx="745.77" cy="571.87" r="2.9" fill="#FDC613"/><circle cx="762.44" cy="571.87" r="2.9" fill="#CB2559"/><circle cx="779.11" cy="571.87" r="1.25" fill="#111"/><circle cx="562.40" cy="590.33" r="2.9" fill="#F5A124"/><circle cx="579.07" cy="590.33" r="1.25" fill="#111"/><circle cx="595.74" cy="590.33" r="1.25" fill="#111"/><circle cx="612.41" cy="590.33" r="2.9" fill="#0EA653"/><circle cx="629.08" cy="590.33" r="1.25" fill="#111"/><circle cx="645.75" cy="590.33" r="6.0" fill="#8CC443"/><circle cx="662.42" cy="590.33" r="1.25" fill="#111"/><circle cx="679.09" cy="590.33" r="1.25" fill="#111"/><circle cx="695.76" cy="590.33" r="2.9" fill="#B98A3A"/><circle cx="712.43" cy="590.33" r="1.25" fill="#111"/><circle cx="729.10" cy="590.33" r="2.9" fill="#E84A27"/><circle cx="745.77" cy="590.33" r="1.25" fill="#111"/><circle cx="762.44" cy="590.33" r="2.9" fill="#CB2559"/><circle cx="779.11" cy="590.33" r="1.25" fill="#111"/><circle cx="562.40" cy="608.79" r="6.0" fill="#F5A124"/><circle cx="579.07" cy="608.79" r="2.9" fill="#D6DF2B"/><circle cx="595.74" cy="608.79" r="1.25" fill="#111"/><circle cx="612.41" cy="608.79" r="2.9" fill="#0EA653"/><circle cx="629.08" cy="608.79" r="1.25" fill="#111"/><circle cx="645.75" cy="608.79" r="2.9" fill="#8CC443"/><circle cx="662.42" cy="608.79" r="1.25" fill="#111"/><circle cx="679.09" cy="608.79" r="2.9" fill="#5F2B20"/><circle cx="695.76" cy="608.79" r="2.9" fill="#B98A3A"/><circle cx="712.43" cy="608.79" r="1.25" fill="#111"/><circle cx="729.10" cy="608.79" r="1.25" fill="#111"/><circle cx="745.77" cy="608.79" r="1.25" fill="#111"/><circle cx="762.44" cy="608.79" r="1.25" fill="#111"/><circle cx="779.11" cy="608.79" r="1.25" fill="#111"/><circle cx="165.30" cy="711.20" r="1.25" fill="#111"/><circle cx="181.97" cy="711.20" r="1.25" fill="#111"/><circle cx="198.64" cy="711.20" r="1.25" fill="#111"/><circle cx="215.31" cy="711.20" r="2.9" fill="#0EA653"/><circle cx="231.98" cy="711.20" r="1.25" fill="#111"/><circle cx="248.65" cy="711.20" r="2.9" fill="#8CC443"/><circle cx="265.32" cy="711.20" r="1.25" fill="#111"/><circle cx="281.99" cy="711.20" r="1.25" fill="#111"/><circle cx="298.66" cy="711.20" r="1.25" fill="#111"/><circle cx="315.33" cy="711.20" r="1.25" fill="#111"/><circle cx="332.00" cy="711.20" r="2.9" fill="#E84A27"/><circle cx="348.67" cy="711.20" r="1.25" fill="#111"/><circle cx="365.34" cy="711.20" r="1.25" fill="#111"/><circle cx="382.01" cy="711.20" r="1.25" fill="#111"/><circle cx="165.30" cy="743.00" r="2.9" fill="#F5A124"/><circle cx="181.97" cy="743.00" r="2.9" fill="#D6DF2B"/><circle cx="198.64" cy="743.00" r="2.9" fill="#8E2A92"/><circle cx="215.31" cy="743.00" r="6.0" fill="#0EA653"/><circle cx="231.98" cy="743.00" r="2.9" fill="#3E8596"/><circle cx="248.65" cy="743.00" r="6.0" fill="#8CC443"/><circle cx="265.32" cy="743.00" r="1.25" fill="#111"/><circle cx="281.99" cy="743.00" r="2.9" fill="#5F2B20"/><circle cx="298.66" cy="743.00" r="2.9" fill="#B98A3A"/><circle cx="315.33" cy="743.00" r="1.25" fill="#111"/><circle cx="332.00" cy="743.00" r="1.25" fill="#111"/><circle cx="348.67" cy="743.00" r="2.9" fill="#FDC613"/><circle cx="365.34" cy="743.00" r="1.25" fill="#111"/><circle cx="382.01" cy="743.00" r="1.25" fill="#111"/><circle cx="165.30" cy="761.46" r="2.9" fill="#F5A124"/><circle cx="181.97" cy="761.46" r="2.9" fill="#D6DF2B"/><circle cx="198.64" cy="761.46" r="2.9" fill="#8E2A92"/><circle cx="215.31" cy="761.46" r="2.9" fill="#0EA653"/><circle cx="231.98" cy="761.46" r="1.25" fill="#111"/><circle cx="248.65" cy="761.46" r="6.0" fill="#8CC443"/><circle cx="265.32" cy="761.46" r="2.9" fill="#DD7424"/><circle cx="281.99" cy="761.46" r="2.9" fill="#5F2B20"/><circle cx="298.66" cy="761.46" r="2.9" fill="#B98A3A"/><circle cx="315.33" cy="761.46" r="2.9" fill="#8A4420"/><circle cx="332.00" cy="761.46" r="2.9" fill="#E84A27"/><circle cx="348.67" cy="761.46" r="2.9" fill="#FDC613"/><circle cx="365.34" cy="761.46" r="2.9" fill="#CB2559"/><circle cx="382.01" cy="761.46" r="1.25" fill="#111"/><circle cx="165.30" cy="779.92" r="1.25" fill="#111"/><circle cx="181.97" cy="779.92" r="1.25" fill="#111"/><circle cx="198.64" cy="779.92" r="1.25" fill="#111"/><circle cx="215.31" cy="779.92" r="6.0" fill="#0EA653"/><circle cx="231.98" cy="779.92" r="1.25" fill="#111"/><circle cx="248.65" cy="779.92" r="2.9" fill="#8CC443"/><circle cx="265.32" cy="779.92" r="1.25" fill="#111"/><circle cx="281.99" cy="779.92" r="1.25" fill="#111"/><circle cx="298.66" cy="779.92" r="1.25" fill="#111"/><circle cx="315.33" cy="779.92" r="1.25" fill="#111"/><circle cx="332.00" cy="779.92" r="6.0" fill="#E84A27"/><circle cx="348.67" cy="779.92" r="2.9" fill="#FDC613"/><circle cx="365.34" cy="779.92" r="1.25" fill="#111"/><circle cx="382.01" cy="779.92" r="1.25" fill="#111"/><circle cx="165.30" cy="798.38" r="2.9" fill="#F5A124"/><circle cx="181.97" cy="798.38" r="2.9" fill="#D6DF2B"/><circle cx="198.64" cy="798.38" r="2.9" fill="#8E2A92"/><circle cx="215.31" cy="798.38" r="6.0" fill="#0EA653"/><circle cx="231.98" cy="798.38" r="1.25" fill="#111"/><circle cx="248.65" cy="798.38" r="6.0" fill="#8CC443"/><circle cx="265.32" cy="798.38" r="1.25" fill="#111"/><circle cx="281.99" cy="798.38" r="2.9" fill="#5F2B20"/><circle cx="298.66" cy="798.38" r="2.9" fill="#B98A3A"/><circle cx="315.33" cy="798.38" r="1.25" fill="#111"/><circle cx="332.00" cy="798.38" r="1.25" fill="#111"/><circle cx="348.67" cy="798.38" r="2.9" fill="#FDC613"/><circle cx="365.34" cy="798.38" r="2.9" fill="#CB2559"/><circle cx="382.01" cy="798.38" r="1.25" fill="#111"/><circle cx="165.30" cy="816.84" r="2.9" fill="#F5A124"/><circle cx="181.97" cy="816.84" r="2.9" fill="#D6DF2B"/><circle cx="198.64" cy="816.84" r="2.9" fill="#8E2A92"/><circle cx="215.31" cy="816.84" r="6.0" fill="#0EA653"/><circle cx="231.98" cy="816.84" r="2.9" fill="#3E8596"/><circle cx="248.65" cy="816.84" r="6.0" fill="#8CC443"/><circle cx="265.32" cy="816.84" r="1.25" fill="#111"/><circle cx="281.99" cy="816.84" r="2.9" fill="#5F2B20"/><circle cx="298.66" cy="816.84" r="2.9" fill="#B98A3A"/><circle cx="315.33" cy="816.84" r="1.25" fill="#111"/><circle cx="332.00" cy="816.84" r="2.9" fill="#E84A27"/><circle cx="348.67" cy="816.84" r="2.9" fill="#FDC613"/><circle cx="365.34" cy="816.84" r="1.25" fill="#111"/><circle cx="382.01" cy="816.84" r="1.25" fill="#111"/><circle cx="165.30" cy="835.30" r="2.9" fill="#F5A124"/><circle cx="181.97" cy="835.30" r="2.9" fill="#D6DF2B"/><circle cx="198.64" cy="835.30" r="2.9" fill="#8E2A92"/><circle cx="215.31" cy="835.30" r="6.0" fill="#0EA653"/><circle cx="231.98" cy="835.30" r="1.25" fill="#111"/><circle cx="248.65" cy="835.30" r="6.0" fill="#8CC443"/><circle cx="265.32" cy="835.30" r="2.9" fill="#DD7424"/><circle cx="281.99" cy="835.30" r="2.9" fill="#5F2B20"/><circle cx="298.66" cy="835.30" r="2.9" fill="#B98A3A"/><circle cx="315.33" cy="835.30" r="2.9" fill="#8A4420"/><circle cx="332.00" cy="835.30" r="2.9" fill="#E84A27"/><circle cx="348.67" cy="835.30" r="2.9" fill="#FDC613"/><circle cx="365.34" cy="835.30" r="2.9" fill="#CB2559"/><circle cx="382.01" cy="835.30" r="1.25" fill="#111"/><circle cx="165.30" cy="853.76" r="2.9" fill="#F5A124"/><circle cx="181.97" cy="853.76" r="2.9" fill="#D6DF2B"/><circle cx="198.64" cy="853.76" r="2.9" fill="#8E2A92"/><circle cx="215.31" cy="853.76" r="6.0" fill="#0EA653"/><circle cx="231.98" cy="853.76" r="2.9" fill="#3E8596"/><circle cx="248.65" cy="853.76" r="6.0" fill="#8CC443"/><circle cx="265.32" cy="853.76" r="2.9" fill="#DD7424"/><circle cx="281.99" cy="853.76" r="2.9" fill="#5F2B20"/><circle cx="298.66" cy="853.76" r="2.9" fill="#B98A3A"/><circle cx="315.33" cy="853.76" r="2.9" fill="#8A4420"/><circle cx="332.00" cy="853.76" r="2.9" fill="#E84A27"/><circle cx="348.67" cy="853.76" r="2.9" fill="#FDC613"/><circle cx="365.34" cy="853.76" r="2.9" fill="#CB2559"/><circle cx="382.01" cy="853.76" r="1.25" fill="#111"/><circle cx="165.30" cy="872.22" r="2.9" fill="#F5A124"/><circle cx="181.97" cy="872.22" r="2.9" fill="#D6DF2B"/><circle cx="198.64" cy="872.22" r="1.25" fill="#111"/><circle cx="215.31" cy="872.22" r="6.0" fill="#0EA653"/><circle cx="231.98" cy="872.22" r="1.25" fill="#111"/><circle cx="248.65" cy="872.22" r="6.0" fill="#8CC443"/><circle cx="265.32" cy="872.22" r="2.9" fill="#DD7424"/><circle cx="281.99" cy="872.22" r="2.9" fill="#5F2B20"/><circle cx="298.66" cy="872.22" r="1.25" fill="#111"/><circle cx="315.33" cy="872.22" r="2.9" fill="#8A4420"/><circle cx="332.00" cy="872.22" r="2.9" fill="#E84A27"/><circle cx="348.67" cy="872.22" r="2.9" fill="#FDC613"/><circle cx="365.34" cy="872.22" r="2.9" fill="#CB2559"/><circle cx="382.01" cy="872.22" r="1.25" fill="#111"/><circle cx="165.30" cy="890.68" r="2.9" fill="#F5A124"/><circle cx="181.97" cy="890.68" r="2.9" fill="#D6DF2B"/><circle cx="198.64" cy="890.68" r="2.9" fill="#8E2A92"/><circle cx="215.31" cy="890.68" r="6.0" fill="#0EA653"/><circle cx="231.98" cy="890.68" r="1.25" fill="#111"/><circle cx="248.65" cy="890.68" r="6.0" fill="#8CC443"/><circle cx="265.32" cy="890.68" r="2.9" fill="#DD7424"/><circle cx="281.99" cy="890.68" r="2.9" fill="#5F2B20"/><circle cx="298.66" cy="890.68" r="2.9" fill="#B98A3A"/><circle cx="315.33" cy="890.68" r="2.9" fill="#8A4420"/><circle cx="332.00" cy="890.68" r="2.9" fill="#E84A27"/><circle cx="348.67" cy="890.68" r="2.9" fill="#FDC613"/><circle cx="365.34" cy="890.68" r="2.9" fill="#CB2559"/><circle cx="382.01" cy="890.68" r="1.25" fill="#111"/><circle cx="165.30" cy="909.14" r="2.9" fill="#F5A124"/><circle cx="181.97" cy="909.14" r="1.25" fill="#111"/><circle cx="198.64" cy="909.14" r="2.9" fill="#8E2A92"/><circle cx="215.31" cy="909.14" r="2.9" fill="#0EA653"/><circle cx="231.98" cy="909.14" r="1.25" fill="#111"/><circle cx="248.65" cy="909.14" r="6.0" fill="#8CC443"/><circle cx="265.32" cy="909.14" r="2.9" fill="#DD7424"/><circle cx="281.99" cy="909.14" r="2.9" fill="#5F2B20"/><circle cx="298.66" cy="909.14" r="2.9" fill="#B98A3A"/><circle cx="315.33" cy="909.14" r="2.9" fill="#8A4420"/><circle cx="332.00" cy="909.14" r="2.9" fill="#E84A27"/><circle cx="348.67" cy="909.14" r="2.9" fill="#FDC613"/><circle cx="365.34" cy="909.14" r="1.25" fill="#111"/><circle cx="382.01" cy="909.14" r="1.25" fill="#111"/><circle cx="562.40" cy="711.20" r="1.25" fill="#111"/><circle cx="579.07" cy="711.20" r="2.9" fill="#D6DF2B"/><circle cx="595.74" cy="711.20" r="2.9" fill="#8E2A92"/><circle cx="612.41" cy="711.20" r="2.9" fill="#0EA653"/><circle cx="629.08" cy="711.20" r="2.9" fill="#3E8596"/><circle cx="645.75" cy="711.20" r="1.25" fill="#111"/><circle cx="662.42" cy="711.20" r="1.25" fill="#111"/><circle cx="679.09" cy="711.20" r="1.25" fill="#111"/><circle cx="695.76" cy="711.20" r="1.25" fill="#111"/><circle cx="712.43" cy="711.20" r="2.9" fill="#8A4420"/><circle cx="729.10" cy="711.20" r="2.9" fill="#E84A27"/><circle cx="745.77" cy="711.20" r="1.25" fill="#111"/><circle cx="762.44" cy="711.20" r="1.25" fill="#111"/><circle cx="779.11" cy="711.20" r="1.25" fill="#111"/><circle cx="562.40" cy="743.00" r="2.9" fill="#F5A124"/><circle cx="579.07" cy="743.00" r="2.9" fill="#D6DF2B"/><circle cx="595.74" cy="743.00" r="1.25" fill="#111"/><circle cx="612.41" cy="743.00" r="2.9" fill="#0EA653"/><circle cx="629.08" cy="743.00" r="2.9" fill="#3E8596"/><circle cx="645.75" cy="743.00" r="1.25" fill="#111"/><circle cx="662.42" cy="743.00" r="1.25" fill="#111"/><circle cx="679.09" cy="743.00" r="2.9" fill="#5F2B20"/><circle cx="695.76" cy="743.00" r="1.25" fill="#111"/><circle cx="712.43" cy="743.00" r="6.0" fill="#8A4420"/><circle cx="729.10" cy="743.00" r="1.25" fill="#111"/><circle cx="745.77" cy="743.00" r="2.9" fill="#FDC613"/><circle cx="762.44" cy="743.00" r="2.9" fill="#CB2559"/><circle cx="779.11" cy="743.00" r="1.25" fill="#111"/><circle cx="562.40" cy="761.46" r="1.25" fill="#111"/><circle cx="579.07" cy="761.46" r="1.25" fill="#111"/><circle cx="595.74" cy="761.46" r="1.25" fill="#111"/><circle cx="612.41" cy="761.46" r="2.9" fill="#0EA653"/><circle cx="629.08" cy="761.46" r="2.9" fill="#3E8596"/><circle cx="645.75" cy="761.46" r="1.25" fill="#111"/><circle cx="662.42" cy="761.46" r="1.25" fill="#111"/><circle cx="679.09" cy="761.46" r="2.9" fill="#5F2B20"/><circle cx="695.76" cy="761.46" r="1.25" fill="#111"/><circle cx="712.43" cy="761.46" r="2.9" fill="#8A4420"/><circle cx="729.10" cy="761.46" r="6.0" fill="#E84A27"/><circle cx="745.77" cy="761.46" r="1.25" fill="#111"/><circle cx="762.44" cy="761.46" r="1.25" fill="#111"/><circle cx="779.11" cy="761.46" r="1.25" fill="#111"/><circle cx="562.40" cy="779.92" r="2.9" fill="#F5A124"/><circle cx="579.07" cy="779.92" r="6.0" fill="#D6DF2B"/><circle cx="595.74" cy="779.92" r="2.9" fill="#8E2A92"/><circle cx="612.41" cy="779.92" r="2.9" fill="#0EA653"/><circle cx="629.08" cy="779.92" r="1.25" fill="#111"/><circle cx="645.75" cy="779.92" r="2.9" fill="#8CC443"/><circle cx="662.42" cy="779.92" r="1.25" fill="#111"/><circle cx="679.09" cy="779.92" r="2.9" fill="#5F2B20"/><circle cx="695.76" cy="779.92" r="2.9" fill="#B98A3A"/><circle cx="712.43" cy="779.92" r="2.9" fill="#8A4420"/><circle cx="729.10" cy="779.92" r="2.9" fill="#E84A27"/><circle cx="745.77" cy="779.92" r="2.9" fill="#FDC613"/><circle cx="762.44" cy="779.92" r="2.9" fill="#CB2559"/><circle cx="779.11" cy="779.92" r="1.25" fill="#111"/><circle cx="562.40" cy="798.38" r="1.25" fill="#111"/><circle cx="579.07" cy="798.38" r="1.25" fill="#111"/><circle cx="595.74" cy="798.38" r="6.0" fill="#8E2A92"/><circle cx="612.41" cy="798.38" r="2.9" fill="#0EA653"/><circle cx="629.08" cy="798.38" r="1.25" fill="#111"/><circle cx="645.75" cy="798.38" r="2.9" fill="#8CC443"/><circle cx="662.42" cy="798.38" r="2.9" fill="#DD7424"/><circle cx="679.09" cy="798.38" r="2.9" fill="#5F2B20"/><circle cx="695.76" cy="798.38" r="2.9" fill="#B98A3A"/><circle cx="712.43" cy="798.38" r="2.9" fill="#8A4420"/><circle cx="729.10" cy="798.38" r="2.9" fill="#E84A27"/><circle cx="745.77" cy="798.38" r="2.9" fill="#FDC613"/><circle cx="762.44" cy="798.38" r="1.25" fill="#111"/><circle cx="779.11" cy="798.38" r="1.25" fill="#111"/><circle cx="562.40" cy="816.84" r="2.9" fill="#F5A124"/><circle cx="579.07" cy="816.84" r="2.9" fill="#D6DF2B"/><circle cx="595.74" cy="816.84" r="1.25" fill="#111"/><circle cx="612.41" cy="816.84" r="2.9" fill="#0EA653"/><circle cx="629.08" cy="816.84" r="1.25" fill="#111"/><circle cx="645.75" cy="816.84" r="2.9" fill="#8CC443"/><circle cx="662.42" cy="816.84" r="1.25" fill="#111"/><circle cx="679.09" cy="816.84" r="1.25" fill="#111"/><circle cx="695.76" cy="816.84" r="2.9" fill="#B98A3A"/><circle cx="712.43" cy="816.84" r="6.0" fill="#8A4420"/><circle cx="729.10" cy="816.84" r="2.9" fill="#E84A27"/><circle cx="745.77" cy="816.84" r="1.25" fill="#111"/><circle cx="762.44" cy="816.84" r="1.25" fill="#111"/><circle cx="779.11" cy="816.84" r="1.25" fill="#111"/><circle cx="562.40" cy="835.30" r="2.9" fill="#F5A124"/><circle cx="579.07" cy="835.30" r="2.9" fill="#D6DF2B"/><circle cx="595.74" cy="835.30" r="1.25" fill="#111"/><circle cx="612.41" cy="835.30" r="6.0" fill="#0EA653"/><circle cx="629.08" cy="835.30" r="2.9" fill="#3E8596"/><circle cx="645.75" cy="835.30" r="2.9" fill="#8CC443"/><circle cx="662.42" cy="835.30" r="1.25" fill="#111"/><circle cx="679.09" cy="835.30" r="2.9" fill="#5F2B20"/><circle cx="695.76" cy="835.30" r="1.25" fill="#111"/><circle cx="712.43" cy="835.30" r="2.9" fill="#8A4420"/><circle cx="729.10" cy="835.30" r="2.9" fill="#E84A27"/><circle cx="745.77" cy="835.30" r="1.25" fill="#111"/><circle cx="762.44" cy="835.30" r="1.25" fill="#111"/><circle cx="779.11" cy="835.30" r="1.25" fill="#111"/><circle cx="562.40" cy="853.76" r="1.25" fill="#111"/><circle cx="579.07" cy="853.76" r="6.0" fill="#D6DF2B"/><circle cx="595.74" cy="853.76" r="2.9" fill="#8E2A92"/><circle cx="612.41" cy="853.76" r="2.9" fill="#0EA653"/><circle cx="629.08" cy="853.76" r="6.0" fill="#3E8596"/><circle cx="645.75" cy="853.76" r="2.9" fill="#8CC443"/><circle cx="662.42" cy="853.76" r="1.25" fill="#111"/><circle cx="679.09" cy="853.76" r="1.25" fill="#111"/><circle cx="695.76" cy="853.76" r="1.25" fill="#111"/><circle cx="712.43" cy="853.76" r="6.0" fill="#8A4420"/><circle cx="729.10" cy="853.76" r="6.0" fill="#E84A27"/><circle cx="745.77" cy="853.76" r="1.25" fill="#111"/><circle cx="762.44" cy="853.76" r="1.25" fill="#111"/><circle cx="779.11" cy="853.76" r="1.25" fill="#111"/><circle cx="562.40" cy="872.22" r="1.25" fill="#111"/><circle cx="579.07" cy="872.22" r="1.25" fill="#111"/><circle cx="595.74" cy="872.22" r="1.25" fill="#111"/><circle cx="612.41" cy="872.22" r="6.0" fill="#0EA653"/><circle cx="629.08" cy="872.22" r="1.25" fill="#111"/><circle cx="645.75" cy="872.22" r="2.9" fill="#8CC443"/><circle cx="662.42" cy="872.22" r="2.9" fill="#DD7424"/><circle cx="679.09" cy="872.22" r="1.25" fill="#111"/><circle cx="695.76" cy="872.22" r="2.9" fill="#B98A3A"/><circle cx="712.43" cy="872.22" r="2.9" fill="#8A4420"/><circle cx="729.10" cy="872.22" r="2.9" fill="#E84A27"/><circle cx="745.77" cy="872.22" r="1.25" fill="#111"/><circle cx="762.44" cy="872.22" r="1.25" fill="#111"/><circle cx="779.11" cy="872.22" r="1.25" fill="#111"/><circle cx="562.40" cy="890.68" r="2.9" fill="#F5A124"/><circle cx="579.07" cy="890.68" r="6.0" fill="#D6DF2B"/><circle cx="595.74" cy="890.68" r="2.9" fill="#8E2A92"/><circle cx="612.41" cy="890.68" r="1.25" fill="#111"/><circle cx="629.08" cy="890.68" r="2.9" fill="#3E8596"/><circle cx="645.75" cy="890.68" r="1.25" fill="#111"/><circle cx="662.42" cy="890.68" r="1.25" fill="#111"/><circle cx="679.09" cy="890.68" r="1.25" fill="#111"/><circle cx="695.76" cy="890.68" r="1.25" fill="#111"/><circle cx="712.43" cy="890.68" r="6.0" fill="#8A4420"/><circle cx="729.10" cy="890.68" r="6.0" fill="#E84A27"/><circle cx="745.77" cy="890.68" r="1.25" fill="#111"/><circle cx="762.44" cy="890.68" r="1.25" fill="#111"/><circle cx="779.11" cy="890.68" r="1.25" fill="#111"/><circle cx="562.40" cy="909.14" r="2.9" fill="#F5A124"/><circle cx="579.07" cy="909.14" r="6.0" fill="#D6DF2B"/><circle cx="595.74" cy="909.14" r="2.9" fill="#8E2A92"/><circle cx="612.41" cy="909.14" r="2.9" fill="#0EA653"/><circle cx="629.08" cy="909.14" r="1.25" fill="#111"/><circle cx="645.75" cy="909.14" r="2.9" fill="#8CC443"/><circle cx="662.42" cy="909.14" r="1.25" fill="#111"/><circle cx="679.09" cy="909.14" r="2.9" fill="#5F2B20"/><circle cx="695.76" cy="909.14" r="2.9" fill="#B98A3A"/><circle cx="712.43" cy="909.14" r="6.0" fill="#8A4420"/><circle cx="729.10" cy="909.14" r="6.0" fill="#E84A27"/><circle cx="745.77" cy="909.14" r="2.9" fill="#FDC613"/><circle cx="762.44" cy="909.14" r="1.25" fill="#111"/><circle cx="779.11" cy="909.14" r="1.25" fill="#111"/></svg>
</body></html>
